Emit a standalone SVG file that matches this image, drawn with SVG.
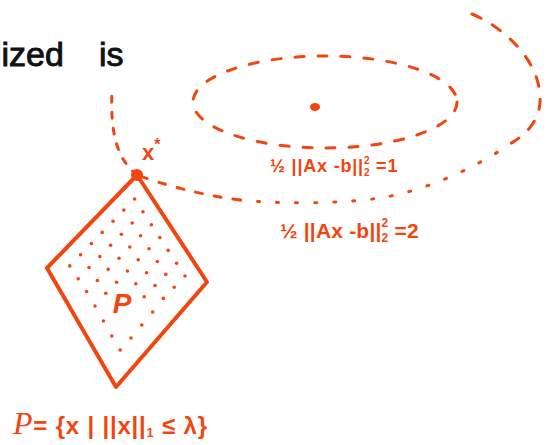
<svg xmlns="http://www.w3.org/2000/svg" width="552" height="445" viewBox="0 0 552 445">
<style>
.ink{fill:none;stroke:#f2450f;stroke-linecap:round;stroke-linejoin:round}
.dash{stroke-width:3}
.lbl{fill:#f2450f;font-family:"Liberation Sans",Arial,sans-serif;font-weight:bold}
.dot{fill:#f2450f}
</style>
<rect width="552" height="445" fill="#ffffff"/>
<text x="-6" y="66" font-family="Liberation Sans, Arial, sans-serif" font-size="34" fill="#111" stroke="#111" stroke-width="0.9">lized<tspan x="99">is</tspan></text>
<g id="contours">
<ellipse id="level1" class="ink dash" cx="325" cy="102" rx="132" ry="46" stroke-dasharray="9 14"/>
<path class="ink dash" d="M472,14 C505,28 538,60 540,95 C542,120 525,135 513,142" stroke-dasharray="10 13"/>
<path class="ink dash" d="M513,142 C480,165 430,190 380,198 C340,204 280,204 240,200" stroke-dasharray="2 17"/>
<path class="ink dash" d="M240,200 C200,195 165,185 137,175" stroke-dasharray="7 12"/>
<path class="ink dash" d="M137,175 C118,160 110,135 112,92" stroke-dasharray="6 10"/>
<ellipse class="dot" cx="315" cy="107" rx="5" ry="4"/>
</g>
<g id="P-set">
<polygon class="ink" stroke-width="4" points="137,175 47,268 116,387 207,282"/>
<g class="dot">
<circle cx="134.6" cy="199" r="1.8"/><circle cx="123.8" cy="210.1" r="1.8"/><circle cx="113" cy="221.3" r="1.8"/><circle cx="102.2" cy="232.4" r="1.8"/><circle cx="91.4" cy="243.6" r="1.8"/><circle cx="80.6" cy="254.8" r="1.8"/><circle cx="69.8" cy="265.9" r="1.8"/>
<circle cx="143" cy="211.8" r="1.8"/><circle cx="132.2" cy="223" r="1.8"/><circle cx="121.4" cy="234.2" r="1.8"/><circle cx="110.6" cy="245.3" r="1.8"/><circle cx="99.8" cy="256.5" r="1.8"/><circle cx="89" cy="267.6" r="1.8"/><circle cx="78.2" cy="278.8" r="1.8"/>
<circle cx="151.4" cy="224.7" r="1.8"/><circle cx="140.6" cy="235.8" r="1.8"/><circle cx="129.8" cy="247" r="1.8"/><circle cx="119" cy="258.2" r="1.8"/><circle cx="108.2" cy="269.3" r="1.8"/><circle cx="97.4" cy="280.5" r="1.8"/><circle cx="86.6" cy="291.6" r="1.8"/>
<circle cx="159.8" cy="237.5" r="1.8"/><circle cx="149" cy="248.7" r="1.8"/><circle cx="138.2" cy="259.8" r="1.8"/><circle cx="127.4" cy="271" r="1.8"/><circle cx="116.6" cy="282.2" r="1.8"/><circle cx="105.8" cy="293.3" r="1.8"/><circle cx="95" cy="306" r="1.8"/>
<circle cx="168.2" cy="250.4" r="1.8"/><circle cx="157.4" cy="261.5" r="1.8"/><circle cx="146.6" cy="272.7" r="1.8"/><circle cx="135.8" cy="283.8" r="1.8"/><circle cx="103.4" cy="321" r="1.8"/>
<circle cx="176.6" cy="263.2" r="1.8"/><circle cx="165.8" cy="274.4" r="1.8"/><circle cx="155" cy="285.5" r="1.8"/><circle cx="144.2" cy="296.7" r="1.8"/><circle cx="111.8" cy="336" r="1.8"/>
<circle cx="185" cy="276" r="1.8"/><circle cx="174.2" cy="287.2" r="1.8"/><circle cx="163.4" cy="298.4" r="1.8"/><circle cx="152.6" cy="312" r="1.8"/><circle cx="141.8" cy="325" r="1.8"/><circle cx="131" cy="338" r="1.8"/><circle cx="120.2" cy="350" r="1.8"/>
</g>
<text class="lbl" x="122" y="313" font-size="28" font-weight="normal" font-style="italic" font-family="Liberation Serif, serif" text-anchor="middle">P</text>
</g>
<g id="xstar">
<circle class="dot" cx="137" cy="175" r="6"/>
<text class="lbl" x="142" y="160" font-size="22">x<tspan font-size="16" dy="-10">*</tspan></text>
</g>
<text class="lbl" x="270" y="172" font-size="18" letter-spacing="0.8">½ ||Ax -b||<tspan font-size="10" dy="-8">2</tspan><tspan font-size="10" dx="-6.4" dy="12">2</tspan><tspan dy="-4"> =1</tspan></text>
<text class="lbl" x="280" y="238" font-size="21" letter-spacing="0.2">½ ||Ax -b||<tspan font-size="12" dy="-11">2</tspan><tspan font-size="12" dx="-6.9" dy="15">2</tspan><tspan dy="-4"> =2</tspan></text>
<text class="lbl" x="13" y="434" font-size="24" letter-spacing="0.8"><tspan font-family="Liberation Serif, serif" font-weight="normal" font-style="italic" font-size="32">P</tspan>= {x | ||x||<tspan font-size="13" dy="3">1</tspan><tspan dy="-3"> ≤ λ}</tspan></text>
</svg>
